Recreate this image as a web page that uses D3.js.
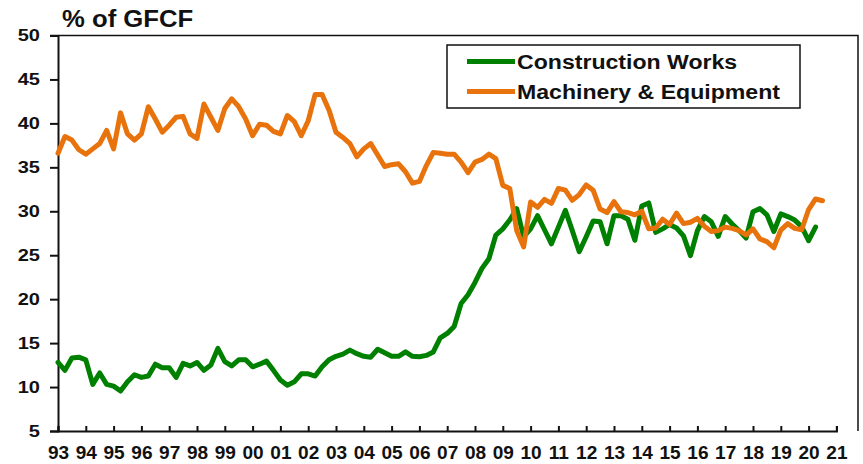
<!DOCTYPE html>
<html>
<head>
<meta charset="utf-8">
<script src="https://cdn.jsdelivr.net/npm/d3@7"></script>
<style>
  body { margin: 0; background: #fff; }
  text { font-family: Arial, "Liberation Sans", sans-serif; font-weight: bold; fill: #111; }
</style>
</head>
<body>
<div id="chart"></div>
<script>
// quarterly shares of GFCF, 1993 Q1 onwards
const yearLabels = ["93","94","95","96","97","98","99","00","01","02","03","04","05","06","07",
                    "08","09","10","11","12","13","14","15","16","17","18","19","20","21"];

const construction = [
  12.8, 11.9, 13.3, 13.4, 13.1, 10.3, 11.6, 10.3, 10.1, 9.55, 10.6, 11.4, 11.1, 11.25, 12.6, 12.2,
  12.2, 11.1, 12.7, 12.4, 12.8, 11.9, 12.5, 14.4, 12.9, 12.4, 13.1, 13.1, 12.3,
  12.6, 12.95, 11.9, 10.8, 10.2, 10.6, 11.5, 11.5, 11.25, 12.3, 13.1, 13.5, 13.75, 14.2, 13.8, 13.5,
  13.4, 14.3, 13.9, 13.5, 13.5, 14.0, 13.5, 13.45, 13.6, 14.0, 15.6, 16.1,
  16.9, 19.5, 20.5, 21.9, 23.5, 24.6, 27.3, 28.0, 29.0, 30.3, 27.1, 28.0, 29.5, 27.9, 26.3, 28.2,
  30.1, 27.8, 25.4, 27.1, 28.9, 28.8, 26.3, 29.5, 29.5, 29.1, 26.7, 30.6, 30.95, 27.6, 28.0, 28.5,
  28.1, 27.2, 24.95, 27.8, 29.4, 28.8, 27.15, 29.4, 28.55, 27.8, 26.95, 29.95, 30.3, 29.6, 27.7,
  29.7, 29.4, 29.0, 28.25, 26.65, 28.2
];

const machinery = [
  36.6, 38.5, 38.1, 37.0, 36.5, 37.1, 37.7, 39.2, 37.1, 41.2, 38.8, 38.1, 38.8, 41.9, 40.5, 39.0,
  39.8, 40.7, 40.8, 38.8, 38.3, 42.2, 40.7, 39.2, 41.7, 42.8, 41.9, 40.5, 38.6,
  39.9, 39.8, 39.1, 38.8, 40.9, 40.2, 38.6, 40.3, 43.3, 43.3, 41.5, 39.0, 38.4, 37.7, 36.2, 37.1,
  37.7, 36.4, 35.1, 35.3, 35.4, 34.5, 33.2, 33.4, 35.2, 36.7, 36.6, 36.5,
  36.5, 35.6, 34.4, 35.6, 35.9, 36.5, 36.0, 32.95, 32.6, 27.8, 25.95, 31.06, 30.45,
  31.35, 30.9, 32.6, 32.4, 31.25, 31.9, 33.0, 32.4, 30.25, 29.85, 31.1, 29.95, 29.85, 29.6, 30.0,
  28.0, 28.1, 29.1, 28.5, 29.8, 28.6, 28.75, 29.2, 28.3, 27.7, 27.8, 28.2, 28.05, 27.8, 27.3, 28.0,
  26.85, 26.55, 25.85, 27.85, 28.6, 28.05, 27.9, 30.2, 31.4, 31.2
];

const yTicks = [5, 10, 15, 20, 25, 30, 35, 40, 45, 50];

const seriesNames = ["Construction Works", "Machinery & Equipment"];
const seriesColors = ["#008000", "#E8720C"];

const width = 863,
      height = 464,
      plotLeft = 58,
      plotRight = 858,
      plotTop = 35.5,
      plotBottom = 431;

const svg = d3.select("#chart").append("svg")
    .attr("width", width)
    .attr("height", height);

//Scales: x in quarters since 1993 Q1
const x = d3.scaleLinear()
    .domain([0, 112])
    .range([plotLeft, 836.4]);
const y = d3.scaleLinear()
    .domain([5, 50])
    .range([plotBottom, plotTop]);

//Frame (top and right)
svg.append("path")
    .attr("d", `M${plotLeft - 8},${plotTop}H${plotRight}V${plotBottom}`)
    .attr("fill", "none")
    .attr("stroke", "#111")
    .attr("stroke-width", 1.5);

//Y axis
const yAxis = svg.append("g")
    .attr("transform", `translate(${plotLeft},0)`)
    .call(d3.axisLeft(y).tickValues(yTicks).tickSize(8).tickPadding(10));
yAxis.select(".domain").attr("stroke", "#111").attr("stroke-width", 2);
yAxis.selectAll(".tick line").attr("stroke", "#111").attr("stroke-width", 2);
// text in the original is a bit stretched sideways
yAxis.selectAll("text")
    .style("font-size", "16px")
    .attr("x", -18 / 1.25)
    .attr("transform", "scale(1.25,1)");

//X axis, inward ticks at each year
const xAxis = svg.append("g")
    .attr("transform", `translate(0,${plotBottom})`)
    .call(d3.axisBottom(x)
        .tickValues(d3.range(0, 113, 4))
        .tickSize(-5)
        .tickPadding(15)
        .tickFormat((d, i) => yearLabels[i]));
xAxis.select(".domain").attr("stroke", "#111").attr("stroke-width", 2);
xAxis.selectAll(".tick line").attr("stroke", "#111").attr("stroke-width", 2);
xAxis.selectAll("text")
    .style("font-size", "18px")
    .attr("transform", "scale(1.06,1)");

//Lines
const line = d3.line()
    .x((d, i) => x(i))
    .y(d => y(d));

[construction, machinery].forEach((series, k) => {
    svg.append("path")
        .datum(series)
        .attr("fill", "none")
        .attr("stroke", seriesColors[k])
        .attr("stroke-width", 5)
        .attr("stroke-linejoin", "round")
        .attr("stroke-linecap", "round")
        .attr("d", line);
});

//Title
svg.append("text")
    .attr("transform", "translate(62,26.5) scale(1.07,1)")
    .style("font-size", "24px")
    .text("% of GFCF");

//Legend
const legend = svg.append("g");
legend.append("rect")
    .attr("x", 447)
    .attr("y", 45)
    .attr("width", 353)
    .attr("height", 63)
    .attr("fill", "#fff")
    .attr("stroke", "#111")
    .attr("stroke-width", 1.5);

const legendRow = legend.selectAll("g.row")
    .data(seriesNames)
    .enter()
    .append("g")
    .attr("class", "row")
    .attr("transform", (d, i) => `translate(0,${61.5 + i * 30})`);

legendRow.append("line")
    .attr("x1", 467)
    .attr("x2", 515)
    .attr("stroke", (d, i) => seriesColors[i])
    .attr("stroke-width", 5);

legendRow.append("text")
    .attr("transform", "translate(517,0) scale(1.1,1)")
    .attr("dy", "0.35em")
    .style("font-size", "21px")
    .text(d => d);
</script>
</body>
</html>
